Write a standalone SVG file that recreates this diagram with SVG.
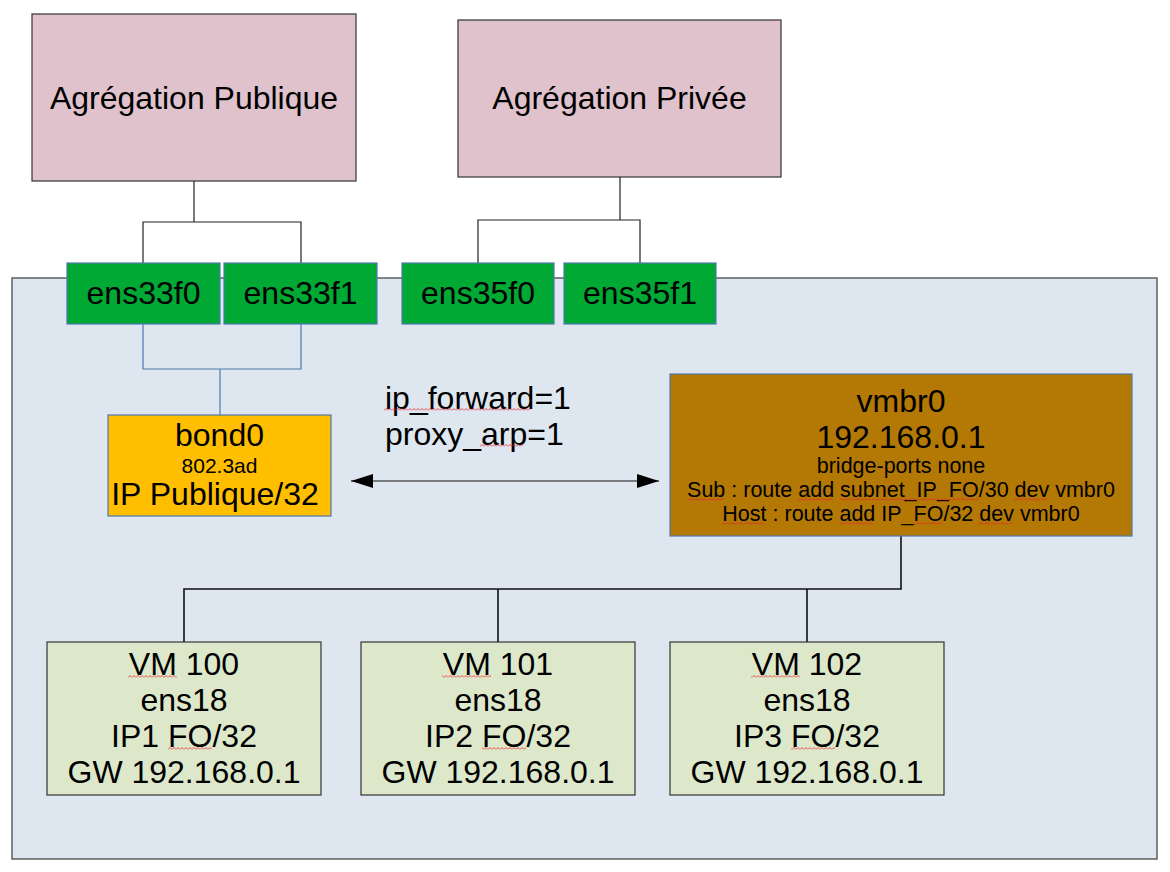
<svg xmlns="http://www.w3.org/2000/svg" width="1170" height="872" viewBox="0 0 1170 872">
<defs>
<style>
text{font-family:"Liberation Sans",Arial,sans-serif;fill:#000;text-anchor:middle}
.agg{fill:#e0c2cd;stroke:#333;stroke-width:1.2}
.nic{fill:#00a933;stroke:#4f78ad;stroke-width:1.2}
.vm{fill:#dde8cb;stroke:#333;stroke-width:1.2}
.t32{font-size:32px}
.t31{font-size:32px}
.t21{font-size:21px}
.t22{font-size:21.5px}
.blk{fill:none;stroke:#222;stroke-width:1.2}
.blu{fill:none;stroke:#4f78ad;stroke-width:1.2}
.tree{fill:none;stroke:#111;stroke-width:1.6}
.spell{fill:url(#wave)}
</style>
<pattern id="wave" x="0" y="0" width="4" height="3" patternUnits="userSpaceOnUse">
<path d="M0 2.5 L2 0.5 L4 2.5" fill="none" stroke="#e8232a" stroke-width="0.8"/>
</pattern>
<marker id="ah" viewBox="0 0 22 14" refX="22" refY="7" markerWidth="22" markerHeight="14" markerUnits="userSpaceOnUse" orient="auto-start-reverse">
<path d="M0 0 L22 7 L0 14 Z" fill="#000"/>
</marker>
</defs>
<rect width="1170" height="872" fill="#fff"/>

<g id="host">
<rect x="12" y="278" width="1145" height="581" fill="#dee6ef" stroke="#555" stroke-width="1.4"/>
</g>

<g id="connectors">
<path class="blk" d="M194 181 V222 M143 263 V222 H301 V263"/>
<path class="blk" d="M620 177 V220 M478 263 V220 H640 V263"/>
<path class="blu" d="M143 324 V369 H301 V324 M220 369 V415"/>
<path class="tree" d="M901 536 V589 H184 V642 M498 589 V642 M807 589 V642"/>
<line x1="351" y1="481" x2="659" y2="481" stroke="#111" stroke-width="1.2" marker-start="url(#ah)" marker-end="url(#ah)"/>
</g>

<g id="agg-publique">
<rect class="agg" x="32" y="14" width="324" height="167"/>
<text class="t32" x="194" y="109">Agrégation Publique</text>
</g>
<g id="agg-privee">
<rect class="agg" x="458" y="20" width="323" height="157"/>
<text class="t32" x="619.5" y="109">Agrégation Privée</text>
</g>

<g id="ens33f0">
<rect class="nic" x="67" y="263" width="153" height="61"/>
<text class="t32" x="143.5" y="304">ens33f0</text>
</g>
<g id="ens33f1">
<rect class="nic" x="224" y="263" width="153" height="61"/>
<text class="t32" x="300.5" y="304">ens33f1</text>
</g>
<g id="ens35f0">
<rect class="nic" x="402" y="263" width="152" height="61"/>
<text class="t32" x="478" y="304">ens35f0</text>
</g>
<g id="ens35f1">
<rect class="nic" x="564" y="263" width="152" height="61"/>
<text class="t32" x="640" y="304">ens35f1</text>
</g>

<g id="bond0">
<rect x="108" y="415" width="223" height="101" fill="#ffbf00" stroke="#4f78ad" stroke-width="1.2"/>
<text class="t32" x="219.5" y="446">bond0</text>
<text class="t21" x="219.5" y="473">802.3ad</text>
<text class="t32" x="215" y="505">IP Publique/32</text>
</g>

<g id="sysctl">
<text class="t32" x="385" y="409" style="text-anchor:start">ip_forward=1</text>
<text class="t32" x="385" y="445" style="text-anchor:start">proxy_arp=1</text>
</g>

<g id="vmbr0">
<rect x="670" y="374" width="462" height="162" fill="#b47804" stroke="#4f78ad" stroke-width="1.2"/>
<text class="t32" x="901" y="412">vmbr0</text>
<text class="t32" x="901" y="448">192.168.0.1</text>
<text class="t22" x="901" y="473">bridge-ports none</text>
<text class="t22" x="901" y="497">Sub : route add subnet_IP_FO/30 dev vmbr0</text>
<text class="t22" x="901" y="521">Host : route add IP_FO/32 dev vmbr0</text>
</g>

<g id="vm100">
<rect class="vm" x="47" y="642" width="274" height="153"/>
<text class="t31" x="184" y="675">VM 100</text>
<text class="t31" x="184" y="711">ens18</text>
<text class="t31" x="184" y="747">IP1 FO/32</text>
<text class="t31" x="184" y="783">GW 192.168.0.1</text>
</g>
<g id="vm101">
<rect class="vm" x="361" y="642" width="274" height="153"/>
<text class="t31" x="498" y="675">VM 101</text>
<text class="t31" x="498" y="711">ens18</text>
<text class="t31" x="498" y="747">IP2 FO/32</text>
<text class="t31" x="498" y="783">GW 192.168.0.1</text>
</g>
<g id="vm102">
<rect class="vm" x="670" y="642" width="274" height="153"/>
<text class="t31" x="807" y="675">VM 102</text>
<text class="t31" x="807" y="711">ens18</text>
<text class="t31" x="807" y="747">IP3 FO/32</text>
<text class="t31" x="807" y="783">GW 192.168.0.1</text>
</g>

<g id="spellcheck">
<rect class="spell" x="384" y="408" width="146" height="3"/>
<rect class="spell" x="480" y="444" width="43" height="3"/>
<rect class="spell" x="687" y="498" width="36" height="3"/>
<rect class="spell" x="798" y="498" width="35" height="3"/>
<rect class="spell" x="840" y="498" width="139" height="3"/>
<rect class="spell" x="1014" y="498" width="33" height="3"/>
<rect class="spell" x="722" y="522" width="43" height="3"/>
<rect class="spell" x="839" y="522" width="34" height="3"/>
<rect class="spell" x="914" y="522" width="28" height="3"/>
<rect class="spell" x="978" y="522" width="34" height="3"/>
<rect class="spell" x="128" y="675" width="49" height="3"/>
<rect class="spell" x="168" y="747" width="44" height="3"/>
<rect class="spell" x="442" y="675" width="49" height="3"/>
<rect class="spell" x="482" y="747" width="44" height="3"/>
<rect class="spell" x="751" y="675" width="49" height="3"/>
<rect class="spell" x="791" y="747" width="44" height="3"/>
</g>
</svg>
